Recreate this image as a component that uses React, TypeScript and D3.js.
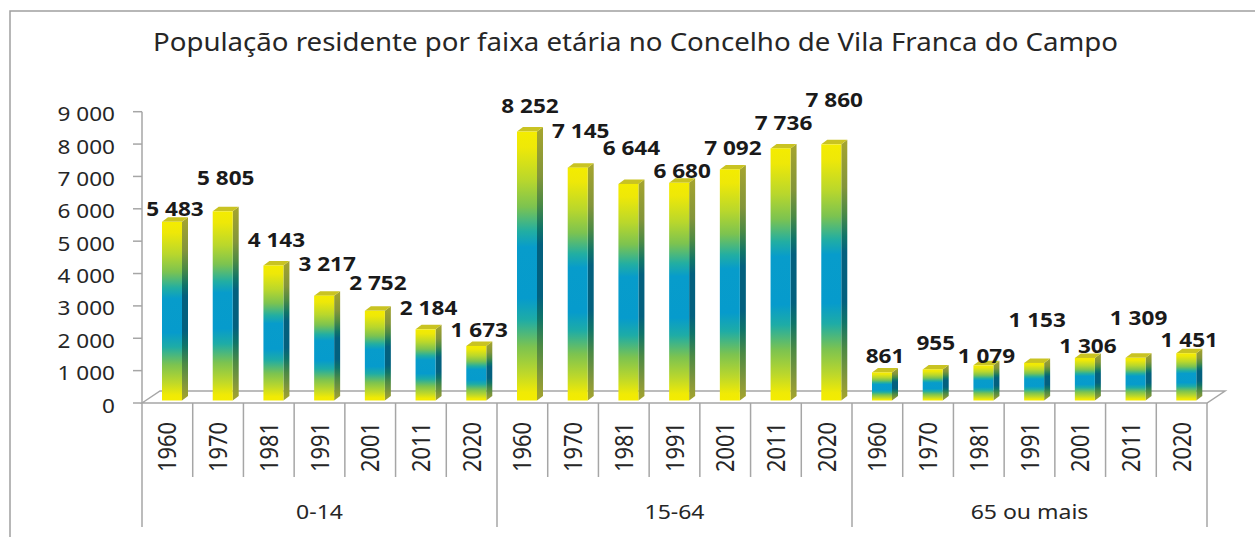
import React from "react";
import * as d3 from "d3";

// ---- data ----
const groups = ["0-14", "15-64", "65 ou mais"];
const years = ["1960", "1970", "1981", "1991", "2001", "2011", "2020"];
const values014 = [5483, 5805, 4143, 3217, 2752, 2184, 1673];
const values1564 = [8252, 7145, 6644, 6680, 7092, 7736, 7860];
const values65 = [861, 955, 1079, 1153, 1306, 1309, 1451];
const yTicks = [0, 1000, 2000, 3000, 4000, 5000, 6000, 7000, 8000, 9000];
const title = "População residente por faixa etária no Concelho de Vila Franca do Campo";

// layout tweak: how far above each bar its label sits (Excel's overlap avoidance)
const labelLift = [6, 26, 18, 25, 21, 14, 9, 19, 30, 29, 5, 14, 18, 37, 9, 19, 2, 36, 5, 33, 6];

const W = 1255;
const H = 537;
const SX = 1.15; // horizontal text stretch
const FONT = "'Noto Sans', 'Open Sans', sans-serif";
const GRID = "#a6a6a6";
const TEXT = "#262626";

const series = [values014, values1564, values65];
const bars = series.flatMap((vals, g) =>
  vals.map((v, i) => ({ group: g, year: years[i], value: v }))
);

const x = d3
  .scaleBand<number>()
  .domain(d3.range(bars.length))
  .range([142, 1207])
  .paddingInner(0)
  .paddingOuter(0);

const yAxis = d3.scaleLinear().domain([0, 9000]).range([403, 111.7]);
const yBar = d3.scaleLinear().domain([0, 9000]).range([400.5, 107.2]);

const BAR_OFF = 20;
const BAR_W = 20;
const DX = 6;
const DY = 4.5;
const FLOOR_DX = 18;
const FLOOR_DY = 12;

export default function App() {
  const bw = x.bandwidth();
  const x0 = x.range()[0];
  const x1 = x.range()[1];
  const floorY = yAxis(0);
  const base = yBar(0);

  return (
    <svg
      width={W}
      height={H}
      style={{ position: "absolute", left: 0, top: 0, background: "#fff" }}
      xmlns="http://www.w3.org/2000/svg"
    >
      <defs>
        <linearGradient id="gFront" x1="0" y1="0" x2="0" y2="1">
          <stop offset="0" stopColor="#f4ec00" />
          <stop offset="0.06" stopColor="#eee808" />
          <stop offset="0.18" stopColor="#b9d72c" />
          <stop offset="0.28" stopColor="#7cc350" />
          <stop offset="0.37" stopColor="#22aea2" />
          <stop offset="0.43" stopColor="#079ccb" />
          <stop offset="0.62" stopColor="#069bcc" />
          <stop offset="0.70" stopColor="#1eaca6" />
          <stop offset="0.80" stopColor="#7cc350" />
          <stop offset="0.90" stopColor="#bed82a" />
          <stop offset="0.97" stopColor="#f0ea05" />
          <stop offset="1" stopColor="#f4ec00" />
        </linearGradient>
        <linearGradient id="gSide" x1="0" y1="0" x2="0" y2="1">
          <stop offset="0" stopColor="#a6a52e" />
          <stop offset="0.18" stopColor="#83953a" />
          <stop offset="0.28" stopColor="#4c8a44" />
          <stop offset="0.37" stopColor="#0f7468" />
          <stop offset="0.43" stopColor="#03607e" />
          <stop offset="0.62" stopColor="#03607e" />
          <stop offset="0.70" stopColor="#0f7468" />
          <stop offset="0.80" stopColor="#4c8a44" />
          <stop offset="0.92" stopColor="#86983a" />
          <stop offset="1" stopColor="#a6a52e" />
        </linearGradient>
      </defs>

      {/* chart border */}
      <path d={`M10,${H} V11 H${W}`} fill="none" stroke="#a0a0a0" strokeWidth={1.5} />

      {/* title */}
      <text
        x={635.5}
        y={51}
        textAnchor="middle"
        fontFamily={FONT}
        fontSize={25}
        fill={TEXT}
        textLength={965}
        lengthAdjust="spacingAndGlyphs"
      >
        {title}
      </text>

      {/* floor outline */}
      <path
        d={`M${x0},${floorY} L${x0 + FLOOR_DX},${floorY - FLOOR_DY} H${x1 + FLOOR_DX} L${x1},${floorY} Z`}
        fill="none"
        stroke={GRID}
        strokeWidth={1.5}
      />

      {/* y axis */}
      <line x1={x0} x2={x0} y1={yAxis(9000)} y2={yAxis(0)} stroke={GRID} strokeWidth={1.5} />
      {yTicks.map((t) => (
        <g key={t}>
          <line x1={133} x2={x0} y1={yAxis(t)} y2={yAxis(t)} stroke={GRID} strokeWidth={1.5} />
          <text
            transform={`translate(115,${yAxis(t) + 9.5}) scale(${SX},1)`}
            textAnchor="end"
            fontFamily={FONT}
            fontSize={19.6}
            fill={TEXT}
          >
            {d3.format(",")(t).replace(/,/g, " ")}
          </text>
        </g>
      ))}

      {/* category axis lines */}
      {d3.range(bars.length + 1).map((i) => {
        const xx = x0 + i * bw;
        const isGroup = i % years.length === 0;
        return (
          <line
            key={i}
            x1={xx}
            x2={xx}
            y1={floorY}
            y2={isGroup ? 527 : 477}
            stroke={GRID}
            strokeWidth={1.5}
          />
        );
      })}

      {/* year labels */}
      {bars.map((b, i) => {
        const cx = (x(i) as number) + bw / 2;
        return (
          <text
            key={i}
            transform={`translate(${cx + 9},447) scale(${SX},1) rotate(-90)`}
            textAnchor="middle"
            fontFamily={FONT}
            fontSize={21.8}
            fill={TEXT}
          >
            {b.year}
          </text>
        );
      })}

      {/* group labels */}
      {groups.map((g, gi) => {
        const cx = x0 + (gi * years.length + years.length / 2) * bw;
        return (
          <text
            key={g}
            transform={`translate(${cx},518.5) scale(${SX},1)`}
            textAnchor="middle"
            fontFamily={FONT}
            fontSize={20}
            fill={TEXT}
          >
            {g}
          </text>
        );
      })}

      {/* bars */}
      {bars.map((b, i) => {
        const fx = (x(i) as number) + BAR_OFF;
        const top = yBar(b.value);
        return (
          <g key={i}>
            <polygon
              points={`${fx + BAR_W},${top} ${fx + BAR_W + DX},${top - DY} ${fx + BAR_W + DX},${base - DY} ${fx + BAR_W},${base}`}
              fill="url(#gSide)"
            />
            <polygon
              points={`${fx},${top} ${fx + DX},${top - DY} ${fx + BAR_W + DX},${top - DY} ${fx + BAR_W},${top}`}
              fill="#c9c322"
            />
            <rect x={fx} y={top} width={BAR_W} height={base - top} fill="url(#gFront)" />
          </g>
        );
      })}

      {/* data labels */}
      {bars.map((b, i) => {
        const cx = (x(i) as number) + BAR_OFF + (BAR_W + DX) / 2;
        const ty = yBar(b.value) - labelLift[i];
        return (
          <text
            key={i}
            transform={`translate(${cx},${ty}) scale(${SX},1)`}
            textAnchor="middle"
            fontFamily={FONT}
            fontWeight="bold"
            fontSize={19.6}
            fill="#1a1a1a"
          >
            {d3.format(",")(b.value).replace(/,/g, " ")}
          </text>
        );
      })}
    </svg>
  );
}
